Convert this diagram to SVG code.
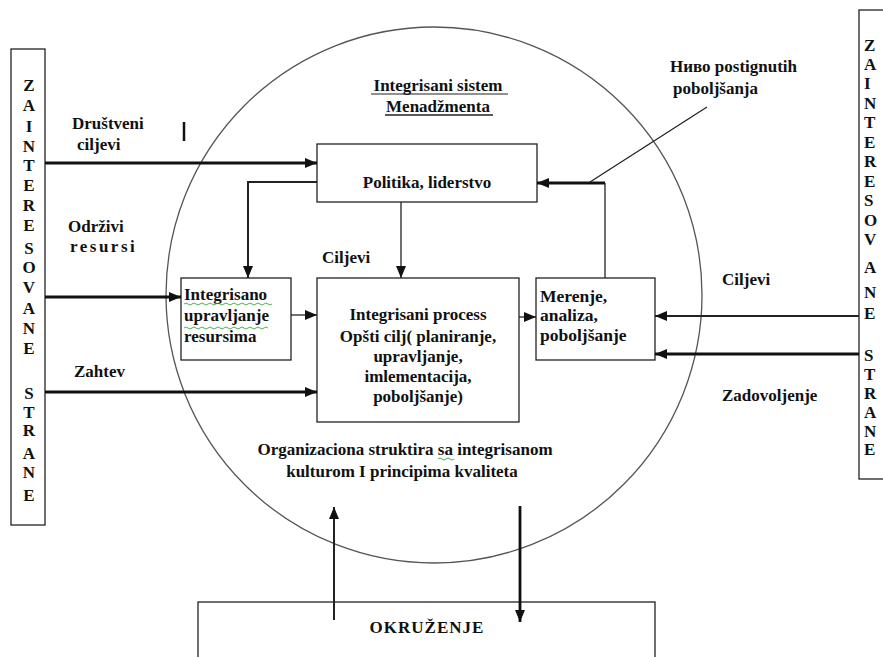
<svg xmlns="http://www.w3.org/2000/svg" width="883" height="657" viewBox="0 0 883 657">
  <defs>
    <style>
      .t { font-family: "Liberation Serif", "Times New Roman", serif; font-weight: bold; font-size: 17px; fill: #111; }
      .v { font-family: "Liberation Serif", "Times New Roman", serif; font-weight: bold; font-size: 17px; fill: #111; }
      .box { fill: #fff; stroke: #222; stroke-width: 1.3; }
      .thin { stroke: #222; stroke-width: 1.3; fill: none; }
      .thick { stroke: #111; stroke-width: 2.8; fill: none; }
      .mid { stroke: #222; stroke-width: 2; fill: none; }
      .spell { stroke: #3aa63a; stroke-width: 0.9; fill: none; }
    </style>
    <marker id="ah" viewBox="0 0 12 10" refX="12" refY="5" markerWidth="12" markerHeight="10" markerUnits="userSpaceOnUse" orient="auto">
      <path d="M0,0 L12,5 L0,10 Z" fill="#111"/>
    </marker>
  </defs>

  <!-- outer system boundary -->
  <circle cx="434" cy="295" r="268" fill="none" stroke="#555" stroke-width="1.3"/>

  <!-- left stakeholder column -->
  <g id="zainteresovane-left">
    <rect class="box" x="11" y="49" width="34" height="476"/>
    <g class="v" text-anchor="middle">
      <text x="29" y="91">Z</text>
      <text x="29" y="111">A</text>
      <text x="29" y="132">I</text>
      <text x="29" y="152">N</text>
      <text x="29" y="171">T</text>
      <text x="29" y="191">E</text>
      <text x="29" y="211">R</text>
      <text x="29" y="231">E</text>
      <text x="29" y="254">S</text>
      <text x="29" y="273">O</text>
      <text x="29" y="293">V</text>
      <text x="29" y="314">A</text>
      <text x="29" y="334">N</text>
      <text x="29" y="354">E</text>
      <text x="29" y="399">S</text>
      <text x="29" y="418">T</text>
      <text x="29" y="436">R</text>
      <text x="29" y="459">A</text>
      <text x="29" y="478">N</text>
      <text x="29" y="501">E</text>
    </g>
  </g>

  <!-- right stakeholder column -->
  <g id="zainteresovane-right">
    <rect class="box" x="859" y="10" width="40" height="469"/>
    <g class="v">
      <text x="864" y="51">Z</text>
      <text x="864" y="70">A</text>
      <text x="864" y="89">I</text>
      <text x="864" y="109">N</text>
      <text x="864" y="128">T</text>
      <text x="864" y="148">E</text>
      <text x="864" y="167">R</text>
      <text x="864" y="187">E</text>
      <text x="864" y="206">S</text>
      <text x="864" y="226">O</text>
      <text x="864" y="245">V</text>
      <text x="864" y="273">A</text>
      <text x="864" y="298">N</text>
      <text x="864" y="319">E</text>
      <text x="864" y="361">S</text>
      <text x="864" y="380">T</text>
      <text x="864" y="399">R</text>
      <text x="864" y="418">A</text>
      <text x="864" y="437">N</text>
      <text x="864" y="455">E</text>
    </g>
  </g>

  <!-- title -->
  <g id="naslov">
    <text class="t" x="438" y="91" text-anchor="middle">Integrisani sistem</text>
    <text class="t" x="438" y="112" text-anchor="middle">Menadžmenta</text>
    <line x1="371" y1="94" x2="508" y2="94" stroke="#222" stroke-width="1"/>
    <line x1="385" y1="115" x2="493" y2="115" stroke="#222" stroke-width="1.6"/>
  </g>

  <g id="politika">
    <rect class="box" x="317" y="144" width="220" height="58"/>
    <text class="t" x="427" y="188" text-anchor="middle">Politika, liderstvo</text>
  </g>

  <g id="upravljanje-resursima">
    <rect class="box" x="181" y="278" width="110" height="82"/>
    <g class="t">
      <text x="184" y="300">Integrisano</text>
      <text x="184" y="321">upravljanje</text>
      <text x="184" y="342">resursima</text>
    </g>
    <path class="spell" d="M184,304 q2,-2 4,0 t4,0 t4,0 t4,0 t4,0 t4,0 t4,0 t4,0 t4,0 t4,0 t4,0 t4,0 t4,0 t4,0 t4,0 t4,0 t4,0 t4,0 t4,0 t4,0 t4,0 t4,0"/>
    <path class="spell" d="M184,328 q2,-2 4,0 t4,0 t4,0 t4,0 t4,0 t4,0 t4,0 t4,0 t4,0 t4,0 t4,0 t4,0 t4,0 t4,0 t4,0 t4,0 t4,0 t4,0 t4,0 t4,0 t4,0"/>
  </g>

  <g id="integrisani-proces">
    <rect class="box" x="317" y="278" width="202" height="144"/>
    <g class="t" text-anchor="middle">
      <text x="418" y="320">Integrisani process</text>
      <text x="418" y="342">Opšti cilj( planiranje,</text>
      <text x="418" y="362">upravljanje,</text>
      <text x="418" y="382">imlementacija,</text>
      <text x="418" y="402">poboljšanje)</text>
    </g>
  </g>

  <g id="merenje">
    <rect class="box" x="536" y="278" width="119" height="82"/>
    <g class="v" style="font-size:17.5px">
      <text x="540" y="302">Merenje,</text>
      <text x="540" y="321">analiza,</text>
      <text x="540" y="341">poboljšanje</text>
    </g>
  </g>

  <g id="okruzenje">
    <rect class="box" x="198" y="602" width="457" height="70"/>
    <text x="427" y="633" text-anchor="middle" font-family="Liberation Serif, Times New Roman, serif" font-size="17" font-weight="bold" letter-spacing="1" fill="#111">OKRUŽENJE</text>
  </g>

  <!-- free labels -->
  <g id="labele" class="t">
    <text x="72" y="129">Društveni</text>
    <text x="77" y="150">ciljevi</text>
    <text x="68" y="232">Održivi</text>
    <text x="70" y="252" letter-spacing="2.5">resursi</text>
    <text x="74" y="377">Zahtev</text>
    <text x="322" y="263">Ciljevi</text>
    <text x="722" y="285">Ciljevi</text>
    <text x="722" y="401">Zadovoljenje</text>
    <text x="670" y="72">Ниво postignutih</text>
    <text x="673" y="94">poboljšanja</text>
    <text x="405" y="455" text-anchor="middle">Organizaciona struktira sa integrisanom</text>
    <text x="402" y="477" text-anchor="middle">kulturom I principima kvaliteta</text>
  </g>
  <path class="spell" d="M438,459 q2,-2 4,0 t4,0 t4,0 t4,0"/>
  <line x1="184" y1="122" x2="184" y2="141" stroke="#111" stroke-width="2.5"/>

  <!-- connectors -->
  <g id="konektori">
    <line class="thick" x1="45" y1="163" x2="317" y2="163" marker-end="url(#ah)"/>
    <line class="thick" x1="45" y1="297" x2="181" y2="297" marker-end="url(#ah)"/>
    <line class="thick" x1="45" y1="392" x2="317" y2="392" marker-end="url(#ah)"/>
    <polyline class="mid" points="317,182 248,182 248,278" marker-end="url(#ah)"/>
    <line class="thin" x1="401" y1="202" x2="401" y2="278" marker-end="url(#ah)"/>
    <line class="thin" x1="291" y1="315" x2="317" y2="315" marker-end="url(#ah)"/>
    <line class="thin" x1="519" y1="317" x2="536" y2="317" marker-end="url(#ah)"/>
    <line class="thin" x1="605" y1="278" x2="605" y2="183"/>
    <line class="thick" x1="605" y1="183" x2="537" y2="183" marker-end="url(#ah)"/>
    <line class="thin" x1="707" y1="107" x2="590" y2="182"/>
    <line class="mid" x1="859" y1="316" x2="655" y2="316" marker-end="url(#ah)"/>
    <line class="thick" x1="859" y1="354" x2="655" y2="354" marker-end="url(#ah)"/>
    <line class="mid" x1="334" y1="620" x2="334" y2="507" marker-end="url(#ah)"/>
    <line class="thick" x1="520" y1="506" x2="520" y2="622" marker-end="url(#ah)"/>
  </g>
</svg>
